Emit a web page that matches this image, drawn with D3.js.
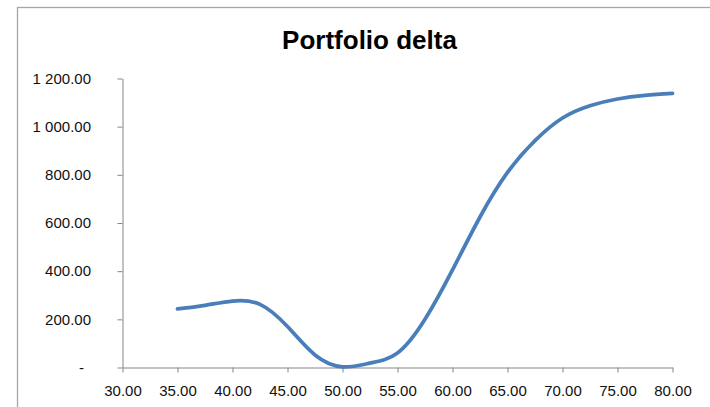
<!DOCTYPE html>
<html>
<head>
<meta charset="utf-8">
<script src="https://cdn.jsdelivr.net/npm/d3@7"></script>
<style>
  html, body { margin: 0; padding: 0; background: #fff; }
  svg { display: block; }
</style>
</head>
<body>
<svg id="chart" width="710" height="407"></svg>
<script>
// Underlying price levels and the portfolio delta at each level
const prices = [35, 37.5, 40, 42.5, 45, 47.5, 50, 52.5, 55, 57.5, 60, 62.5, 65, 67.5, 70, 72.5, 75, 77.5, 80];
const deltas = [243, 258, 276, 262, 170, 52, 3, 18, 60, 200, 405, 625, 810, 942, 1036, 1087, 1115, 1130, 1138];

// Axis ticks
const xTicks = [30, 35, 40, 45, 50, 55, 60, 65, 70, 75, 80];
const yTicks = [0, 200, 400, 600, 800, 1000, 1200];

const chartTitle = "Portfolio delta";

const svg = d3.select("#chart");
const W = 710, H = 407;

// Chart frame
svg.append("rect")
  .attr("x", 17.5).attr("y", 7.5)
  .attr("width", W + 20).attr("height", H + 20)
  .attr("fill", "#fff")
  .attr("stroke", "#a6a6a6")
  .attr("stroke-width", 1.3);

const x = d3.scaleLinear().domain([30, 80]).range([122.5, 672.5]);
const y = d3.scaleLinear().domain([0, 1200]).range([367.5, 78.5]);

// Number format: space as thousands separator, two decimals, dash for zero
const loc = d3.formatLocale({ decimal: ".", thousands: "\u00a0", grouping: [3], currency: ["", ""] });
const fmt = loc.format(",.2f");
const yFmt = v => (v === 0 ? "-" : fmt(v));

const axisColor = "#868686";
const labelFont = "'Liberation Sans', Arial, sans-serif";

// Y axis
const gy = svg.append("g")
  .attr("transform", `translate(${x(30)},0)`)
  .call(d3.axisLeft(y).tickValues(yTicks).tickFormat(yFmt).tickSize(5).tickPadding(26.5).tickSizeOuter(0));

// X axis
const gx = svg.append("g")
  .attr("transform", `translate(0,${y(0)})`)
  .call(d3.axisBottom(x).tickValues(xTicks).tickFormat(d3.format(".2f")).tickSize(5).tickPadding(13.3).tickSizeOuter(0));

[gy, gx].forEach(g => {
  g.select(".domain").attr("stroke", axisColor).attr("stroke-width", 1);
  g.selectAll(".tick line").attr("stroke", axisColor).attr("stroke-width", 1);
  g.selectAll(".tick text")
    .attr("fill", "#111")
    .style("font-family", labelFont)
    .style("font-size", "15px");
});

// The zero label sits left of the decimal column
gy.selectAll(".tick text").filter(d => d === 0).attr("x", -38.5);

// Delta curve, drawn as a smooth spline through the sampled levels
const line = d3.line()
  .x((d, i) => x(prices[i]))
  .y(d => y(d))
  .curve(d3.curveNatural);

svg.append("path")
  .datum(deltas)
  .attr("d", line)
  .attr("fill", "none")
  .attr("stroke", "#4a7ebb")
  .attr("stroke-width", 3.75)
  .attr("stroke-linecap", "round")
  .attr("stroke-linejoin", "round");

// Title
svg.append("text")
  .attr("x", 369.5).attr("y", 48.5)
  .attr("text-anchor", "middle")
  .style("font-family", labelFont)
  .style("font-weight", "bold")
  .style("font-size", "26px")
  .attr("fill", "#000")
  .text(chartTitle);
</script>
</body>
</html>
